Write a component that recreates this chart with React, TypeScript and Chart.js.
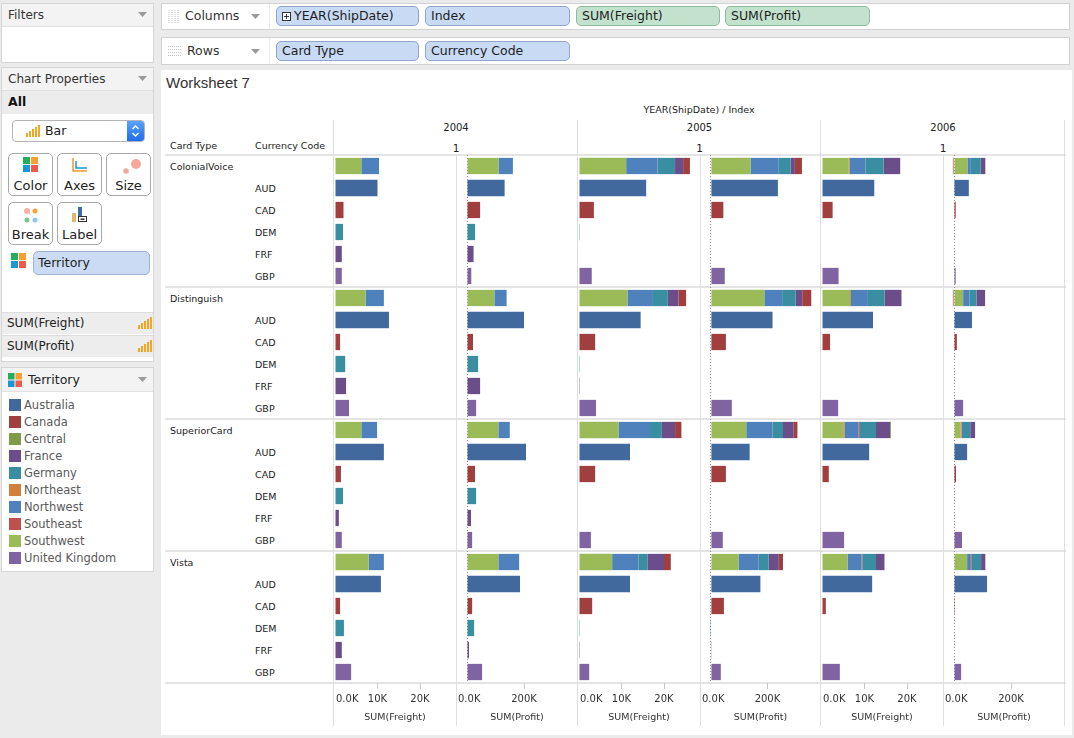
import React, { useEffect, useRef } from "react";
import { Chart, registerables } from "chart.js";

Chart.register(...registerables);

// ---------------- data ----------------
const cardTypes = ["ColonialVoice", "Distinguish", "SuperiorCard", "Vista"];
const currencyCodes = ["AUD", "CAD", "DEM", "FRF", "GBP"];
const years = ["2004", "2005", "2006"];
const measures = ["Freight", "Profit"];
const territories = ["Australia", "Canada", "Central", "France", "Germany", "Northeast", "Northwest", "Southeast", "Southwest", "United Kingdom"];
const territoryColors = ["#42699e", "#a13f3f", "#7f9a48", "#6b4d8a", "#3a8ea1", "#d0803a", "#4f81bd", "#c0504d", "#9bbb59", "#8064a2"];
// order in which the territory segments are stacked
const stackOrder = ["Southwest", "Northeast", "Northwest", "Southeast", "Germany", "France", "Canada", "Central", "Australia", "United Kingdom"];
// territory of each currency code row
const currencyTerritory = ["Australia", "Canada", "Germany", "France", "United Kingdom"];

const freightTicks = [0, 10000, 20000];
const profitTicks = [0, 200000];
const freightRange = [-235, 28470];
const profitRange = [-38600, 389400];

// blank currency-code row (per card type, per year 2004/2005/2006)
const southwestFreight = [[6200, 11100, 6300], [7200, 11400, 6600], [6200, 9300, 5000], [7900, 7800, 6000]];
const northeastFreight = [[0, 0, 200], [0, 0, 200], [0, 0, 300], [0, 0, 0]];
const northwestFreight = [[4150, 7400, 3700], [4300, 6000, 4000], [3700, 7400, 3300], [3600, 6200, 3300]];
const southeastFreight = [[0, 0, 0], [0, 0, 0], [0, 0, 300], [0, 0, 200]];
const germanyFreight = [[0, 4100, 4300], [0, 3500, 3900], [0, 2800, 3800], [0, 2100, 3200]];
const franceFreight = [[0, 1900, 3900], [0, 2500, 4000], [0, 3100, 3300], [0, 3900, 2000]];
const canadaFreight = [[0, 1600, 0], [0, 1800, 0], [0, 1500, 0], [0, 1600, 0]];
const centralFreight = [[0, 0, 0], [0, 0, 0], [0, 0, 200], [0, 0, 0]];

const southwestProfit = [[111000, 140000, 47000], [96000, 189000, 32000], [110000, 125000, 23000], [110000, 98000, 46000]];
const northeastProfit = [[0, 0, 0], [0, 0, 0], [0, 0, 4000], [0, 0, 0]];
const northwestProfit = [[50000, 100000, 12000], [43000, 63000, 22000], [40000, 93000, 8000], [73000, 71000, 13000]];
const southeastProfit = [[0, 0, 0], [0, 0, 0], [0, 0, 0], [0, 0, 3000]];
const germanyProfit = [[0, 42000, 35000], [0, 48000, 25000], [0, 37000, 22000], [0, 35000, 33000]];
const franceProfit = [[0, 15000, 16000], [0, 23000, 30000], [0, 38000, 17000], [0, 36000, 15000]];
const canadaProfit = [[0, 25000, -4000], [0, 32000, -4000], [0, 13000, 0], [0, 15000, 0]];

// currency code rows (per card type, per year)
const audFreight = [[10000, 15800, 12300], [12700, 14500, 12000], [11500, 12000, 11100], [10800, 12000, 11800]];
const cadFreight = [[2000, 3500, 2500], [1200, 3800, 1900], [1400, 3800, 1600], [1200, 3100, 900]];
const demFreight = [[1900, 200, 0], [2400, 200, 0], [1900, 0, 0], [2100, 200, 0]];
const frfFreight = [[1600, 0, 0], [2600, 200, 0], [900, 0, 0], [1600, 200, 0]];
const gbpFreight = [[1600, 3000, 3900], [3300, 4000, 3800], [1600, 2800, 5200], [3800, 2400, 4200]];

const audProfit = [[132000, 237000, 52000], [200000, 218000, 63000], [207000, 137000, 46000], [186000, 175000, 116000]];
const cadProfit = [[46000, 44000, 6000], [21000, 53000, 10000], [28000, 53000, 7000], [18000, 46000, 3000]];
const demProfit = [[28000, 2000, 0], [39000, 2000, 0], [32000, 0, 0], [25000, -3000, 0]];
const frfProfit = [[23000, 0, 0], [46000, 2000, 0], [14000, 0, 0], [7000, 1000, 0]];
const gbpProfit = [[15000, 49000, 6000], [32000, 74000, 32000], [18000, 42000, 28000], [53000, 35000, 25000]];

const blankFreight: Record<string, number[][]> = {
  Southwest: southwestFreight, Northeast: northeastFreight, Northwest: northwestFreight, Southeast: southeastFreight,
  Germany: germanyFreight, France: franceFreight, Canada: canadaFreight, Central: centralFreight,
};
const blankProfit: Record<string, number[][]> = {
  Southwest: southwestProfit, Northeast: northeastProfit, Northwest: northwestProfit, Southeast: southeastProfit,
  Germany: germanyProfit, France: franceProfit, Canada: canadaProfit,
};
const currencyFreight = [audFreight, cadFreight, demFreight, frfFreight, gbpFreight];
const currencyProfit = [audProfit, cadProfit, demProfit, frfProfit, gbpProfit];

const rowKeys: { card: number; cur: number }[] = [];
cardTypes.forEach((_, c) => {
  for (let k = 0; k <= currencyCodes.length; k++) rowKeys.push({ card: c, cur: k });
});
const rowLabels = rowKeys.map((r) => cardTypes[r.card] + "|" + (r.cur ? currencyCodes[r.cur - 1] : ""));

// ---------------- layout constants ----------------
const FONT = '"DejaVu Sans", Verdana, sans-serif';
const yearEdges = [334, 578, 821, 1065];
const PANE_TOP = 155;
const ROW_H = 22;
const PANE_H = ROW_H * rowKeys.length; // 528
const AXIS_H = 42;
const PAD = 20;

function buildDatasets(yi: number, measure: string) {
  const blank = measure === "Freight" ? blankFreight : blankProfit;
  const cur = measure === "Freight" ? currencyFreight : currencyProfit;
  return stackOrder.map((t) => {
    const data = rowKeys.map(({ card, cur: k }) => {
      let v = 0;
      if (k === 0) v = blank[t] ? blank[t][card][yi] : 0;
      else if (currencyTerritory[k - 1] === t) v = cur[k - 1][card][yi];
      return v === 0 ? null : v;
    });
    return {
      label: t,
      data,
      backgroundColor: territoryColors[territories.indexOf(t)],
      borderWidth: 0,
      barPercentage: 0.74,
      categoryPercentage: 1,
      stack: "s",
    };
  });
}

const fmtTick = (v: number) => (v === 0 ? "0.0K" : v / 1000 + "K");

const tickLabelPlugin = {
  id: "tickLabelsClamped",
  afterDraw(chart: any) {
    const s = chart.scales.x;
    const ctx = chart.ctx;
    ctx.save();
    ctx.font = "10px " + FONT;
    ctx.fillStyle = "#333";
    ctx.textBaseline = "middle";
    ctx.textAlign = "left";
    s.ticks.forEach((t: any) => {
      const label = fmtTick(t.value);
      const w = ctx.measureText(label).width;
      let x = s.getPixelForValue(t.value) - w / 2;
      x = Math.max(x, chart.chartArea.left + 2);
      ctx.fillText(label, x, s.top + 16);
    });
    ctx.restore();
  },
};

function paneRect(yi: number, mi: number) {
  const mid = Math.round((yearEdges[yi] + yearEdges[yi + 1]) / 2);
  const left = mi === 0 ? yearEdges[yi] : mid;
  const right = mi === 0 ? mid : yearEdges[yi + 1];
  return { left, width: right - left };
}

function ChartPanels() {
  const refs = useRef<(HTMLCanvasElement | null)[]>([]);
  useEffect(() => {
    const charts: Chart[] = [];
    years.forEach((_, yi) => {
      measures.forEach((m, mi) => {
        const cv = refs.current[yi * 2 + mi];
        if (!cv) return;
        const isProfit = m === "Profit";
        const range = isProfit ? profitRange : freightRange;
        const ticks = isProfit ? profitTicks : freightTicks;
        const ch = new Chart(cv, {
          type: "bar",
          data: { labels: rowLabels, datasets: buildDatasets(yi, m) as any },
          plugins: [tickLabelPlugin],
          options: {
            indexAxis: "y",
            animation: false,
            responsive: false,
            maintainAspectRatio: false,
            events: [],
            layout: { padding: { left: PAD, right: PAD, top: 0, bottom: 0 } },
            plugins: { legend: { display: false }, tooltip: { enabled: false } },
            scales: {
              y: { type: "category", display: false, stacked: true },
              x: {
                type: "linear",
                position: "bottom",
                stacked: true,
                min: range[0],
                max: range[1],
                afterBuildTicks: (s: any) => {
                  s.ticks = ticks.map((v) => ({ value: v }));
                },
                afterFit: (s: any) => {
                  s.height = AXIS_H;
                },
                ticks: { display: false },
                grid: {
                  drawOnChartArea: true,
                  drawTicks: true,
                  tickLength: 6,
                  lineWidth: 1,
                  color: (c: any) => (isProfit && c.tick && c.tick.value === 0 ? "#8f8f8f" : "rgba(0,0,0,0)"),
                  tickColor: (c: any) => (c.tick && c.tick.value === 0 ? "rgba(0,0,0,0)" : "#c9c9c9"),
                },
                border: { display: false, dash: [1, 2] },
                title: {
                  display: true,
                  text: "SUM(" + m + ")",
                  color: "#333",
                  font: { family: FONT, size: 9.5 },
                  padding: { top: 0, bottom: 2 },
                },
              },
            },
          } as any,
        });
        charts.push(ch);
      });
    });
    return () => charts.forEach((c) => c.destroy());
  }, []);

  const canvases: any[] = [];
  years.forEach((_, yi) => {
    measures.forEach((_m, mi) => {
      const r = paneRect(yi, mi);
      const w = r.width + PAD * 2;
      const h = PANE_H + AXIS_H;
      canvases.push(
        <canvas
          key={yi + "-" + mi}
          ref={(el) => {
            refs.current[yi * 2 + mi] = el;
          }}
          width={w}
          height={h}
          style={{ position: "absolute", left: r.left - PAD, top: PANE_TOP, width: w, height: h }}
        />
      );
    });
  });
  return <>{canvases}</>;
}

// ---------------- UI helpers ----------------
function Txt(props: any) {
  const { x, y, text, size = 10, color = "#222", bold, family = FONT, align = "left" } = props;
  const lh = Math.round(size * 1.6);
  const style: any = {
    position: "absolute",
    top: y - lh / 2,
    fontSize: size,
    lineHeight: lh + "px",
    color,
    fontFamily: family,
    fontWeight: bold ? "bold" : "normal",
    whiteSpace: "nowrap",
  };
  if (align === "center") {
    style.left = x - 200;
    style.width = 400;
    style.textAlign = "center";
  } else style.left = x;
  return <div style={style}>{text}</div>;
}

function Rect(props: any) {
  const { x, y, w, h, style } = props;
  return <div style={{ position: "absolute", left: x, top: y, width: w, height: h, boxSizing: "border-box", ...style }}>{props.children}</div>;
}

function Caret({ x, y }: any) {
  return (
    <svg style={{ position: "absolute", left: x, top: y }} width="9" height="6">
      <polygon points="0,0 9,0 4.5,5" fill="#9a9a9a" />
    </svg>
  );
}

function BarIcon({ x, y }: any) {
  const hs = [4, 6, 8, 10, 12];
  return (
    <svg style={{ position: "absolute", left: x, top: y }} width="15" height="13">
      {hs.map((h, i) => (
        <rect key={i} x={i * 3} y={13 - h} width="2" height={h} fill="#f5a623" />
      ))}
    </svg>
  );
}

function ColorIcon({ x, y, s = 7 }: any) {
  return (
    <svg style={{ position: "absolute", left: x, top: y }} width={s * 2 + 1} height={s * 2 + 1}>
      <rect x="0" y="0" width={s} height={s} fill="#23ad5c" />
      <rect x={s + 1} y="0" width={s} height={s} fill="#f6a136" />
      <rect x="0" y={s + 1} width={s} height={s} fill="#1b98d3" />
      <rect x={s + 1} y={s + 1} width={s} height={s} fill="#ef5b4b" />
    </svg>
  );
}

function Pill({ x, y, w, text, green, plus }: any) {
  return (
    <Rect
      x={x}
      y={y}
      w={w}
      h={20}
      style={{
        background: green ? "#c3e2ce" : "#c8daf4",
        border: "1px solid " + (green ? "#8fb99e" : "#8fa6ca"),
        borderRadius: 5,
      }}
    >
      {plus ? (
        <svg style={{ position: "absolute", left: 5, top: 5 }} width="9" height="9">
          <rect x="0.5" y="0.5" width="8" height="8" fill="#fff" stroke="#333" />
          <line x1="2" y1="4.5" x2="7" y2="4.5" stroke="#333" />
          <line x1="4.5" y1="2" x2="4.5" y2="7" stroke="#333" />
        </svg>
      ) : null}
      <div style={{ position: "absolute", left: plus ? 17 : 5, top: 0, lineHeight: "18px", fontSize: 12.5, color: "#1e1e1e", fontFamily: FONT, whiteSpace: "nowrap" }}>{text}</div>
    </Rect>
  );
}

function Btn({ x, y, label, children }: any) {
  return (
    <Rect x={x} y={y} w={45} h={43} style={{ border: "1px solid #a9a9a9", borderRadius: 5, background: "#fff" }}>
      {children}
      <div style={{ position: "absolute", left: 0, width: 43, top: 23, textAlign: "center", fontSize: 13, lineHeight: "18px", color: "#222", fontFamily: FONT }}>{label}</div>
    </Rect>
  );
}

function LeftPanel() {
  const hdr = { background: "#f3f3f3", borderBottom: "1px solid #e1e1e1" };
  return (
    <>
      {/* Filters */}
      <Rect x={1} y={3} w={153} h={60} style={{ background: "#fff", border: "1px solid #d6d6d6" }} />
      <Rect x={2} y={4} w={151} h={23} style={hdr} />
      <Txt x={8} y={15} text="Filters" size={12} color="#333" />
      <Caret x={138} y={12} />

      {/* Chart properties */}
      <Rect x={1} y={67} w={153} h={295} style={{ background: "#fff", border: "1px solid #d6d6d6" }} />
      <Rect x={2} y={68} w={151} h={23} style={hdr} />
      <Txt x={8} y={79} text="Chart Properties" size={12} color="#333" />
      <Caret x={138} y={76} />
      <Rect x={2} y={91} w={151} h={23} style={{ background: "#ececec" }} />
      <Txt x={8} y={102} text="All" size={12.5} color="#111" bold />

      <Rect x={12} y={120} w={133} h={22} style={{ border: "1px solid #b4b4b4", borderRadius: 4, background: "#fff", overflow: "hidden" }}>
        <div style={{ position: "absolute", right: 0, top: 0, width: 17, height: 20, background: "linear-gradient(#5aa2fb,#1e6fe8)" }}>
          <svg width="17" height="20">
            <polyline points="5.5,8 8.5,5 11.5,8" fill="none" stroke="#fff" strokeWidth="1.4" />
            <polyline points="5.5,12 8.5,15 11.5,12" fill="none" stroke="#fff" strokeWidth="1.4" />
          </svg>
        </div>
      </Rect>
      <BarIcon x={26} y={124} />
      <Txt x={45} y={131} text="Bar" size={12.5} color="#222" />

      <Btn x={8} y={153} label="Color">
        <ColorIcon x={14} y={3} s={7} />
      </Btn>
      <Btn x={57} y={153} label="Axes">
        <svg style={{ position: "absolute", left: 14, top: 4 }} width="16" height="15">
          <polyline points="1,0 1,13 15,13" fill="none" stroke="#f39a2b" strokeWidth="1.5" />
          <polyline points="4,3 4,10 15,10" fill="none" stroke="#1b98d3" strokeWidth="1.5" />
        </svg>
      </Btn>
      <Btn x={106} y={153} label="Size">
        <svg style={{ position: "absolute", left: 12, top: 3 }} width="22" height="18">
          <circle cx="17" cy="7" r="5" fill="#f5a79c" />
          <circle cx="7" cy="14" r="2.8" fill="#f5a79c" />
        </svg>
      </Btn>
      <Btn x={8} y={202} label="Break">
        <svg style={{ position: "absolute", left: 12, top: 3 }} width="20" height="18">
          <circle cx="6" cy="5" r="3" fill="#f5b2a7" />
          <circle cx="14" cy="5" r="2.5" fill="#f6a136" />
          <circle cx="6" cy="14" r="2.5" fill="#7cc686" />
          <circle cx="14" cy="14" r="2.5" fill="#8cc8f0" />
          <line x1="8" y1="7" x2="12" y2="11" stroke="#bbb" strokeDasharray="1,1" />
        </svg>
      </Btn>
      <Btn x={57} y={202} label="Label">
        <svg style={{ position: "absolute", left: 14, top: 3 }} width="16" height="18">
          <rect x="0" y="7" width="4" height="9" fill="#e2b96c" />
          <rect x="6" y="1" width="4" height="9" fill="#3f6ea5" />
          <rect x="6.5" y="10.5" width="8" height="5" fill="#fff" stroke="#333" />
          <rect x="8.5" y="12.5" width="4" height="1.5" fill="#333" />
        </svg>
      </Btn>

      <ColorIcon x={11} y={253} s={7} />
      <Rect x={33} y={251} w={117} h={24} style={{ background: "#cadbf3", border: "1px solid #9fb3d4", borderRadius: 5 }} />
      <Txt x={38} y={263} text="Territory" size={12.5} color="#1e1e1e" />

      <Rect x={2} y={312} w={151} h={22} style={{ background: "#ededed", borderTop: "1px solid #dedede" }} />
      <Txt x={7} y={323} text="SUM(Freight)" size={12} color="#222" />
      <BarIcon x={138} y={316} />
      <Rect x={2} y={335} w={151} h={22} style={{ background: "#ededed", borderTop: "1px solid #dedede" }} />
      <Txt x={7} y={346} text="SUM(Profit)" size={12} color="#222" />
      <BarIcon x={138} y={339} />

      {/* Territory legend */}
      <Rect x={1} y={367} w={153} h={205} style={{ background: "#fff", border: "1px solid #d6d6d6" }} />
      <Rect x={2} y={368} w={151} h={24} style={hdr} />
      <ColorIcon x={8} y={373} s={6.5} />
      <Txt x={28} y={380} text="Territory" size={12.5} color="#222" />
      <Caret x={138} y={377} />
      {territories.map((t, i) => (
        <React.Fragment key={t}>
          <Rect x={9} y={399 + i * 17} w={12} h={12} style={{ background: territoryColors[i] }} />
          <Txt x={24} y={405 + i * 17} text={t} size={11.5} color="#5a5a5a" />
        </React.Fragment>
      ))}
    </>
  );
}

function Shelves() {
  const shelf = { background: "#fff", border: "1px solid #d2d2d2" };
  const grip = (x: number, y: number, vertical: boolean) => (
    <svg style={{ position: "absolute", left: x, top: y }} width="13" height="13">
      {vertical
        ? [0, 3, 6, 9].map((i) => <line key={i} x1={i + 1} y1="0" x2={i + 1} y2="13" stroke="#c2c2c2" strokeDasharray="1,1" />)
        : [0, 3, 6, 9].map((i) => <line key={i} x1="0" y1={i + 1.5} x2="13" y2={i + 1.5} stroke="#c2c2c2" strokeDasharray="1,1" />)}
    </svg>
  );
  return (
    <>
      <Rect x={161} y={3} w={909} h={27} style={shelf} />
      {grip(168, 10, true)}
      <Txt x={185} y={16} text="Columns" size={12.5} color="#333" />
      <Caret x={251} y={14} />
      <Rect x={269} y={4} w={1} h={25} style={{ background: "#ececec" }} />
      <Pill x={276} y={6} w={143} text="YEAR(ShipDate)" plus />
      <Pill x={425} y={6} w={145} text="Index" />
      <Pill x={576} y={6} w={144} text="SUM(Freight)" green />
      <Pill x={725} y={6} w={145} text="SUM(Profit)" green />

      <Rect x={161} y={37} w={909} h={28} style={shelf} />
      {grip(168, 45, false)}
      <Txt x={187} y={51} text="Rows" size={12.5} color="#333" />
      <Caret x={251} y={49} />
      <Rect x={269} y={38} w={1} h={26} style={{ background: "#ececec" }} />
      <Pill x={276} y={41} w={143} text="Card Type" />
      <Pill x={425} y={41} w={145} text="Currency Code" />
    </>
  );
}

function Sheet() {
  const lineC = "#dedede";
  const vLines: any[] = [];
  yearEdges.forEach((x, i) => vLines.push(<Rect key={"ye" + i} x={x - 1} y={120} w={1} h={606} style={{ background: lineC }} />));
  years.forEach((_, yi) => {
    const mid = Math.round((yearEdges[yi] + yearEdges[yi + 1]) / 2);
    vLines.push(<Rect key={"m" + yi} x={mid} y={PANE_TOP} w={1} h={571} style={{ background: lineC }} />);
  });
  const hLines = [0, 6, 12, 18, 24].map((r) => (
    <Rect key={"h" + r} x={165} y={PANE_TOP + r * ROW_H - 1} w={901} h={2} style={{ background: "#e4e4e4" }} />
  ));
  return (
    <>
      <Rect x={161} y={70} w={911} h={665} style={{ background: "#fff" }} />
      <Txt x={166} y={83} text="Worksheet 7" size={15} color="#333" family='"Liberation Sans", Arial, sans-serif' />
      <Txt x={699} y={109} text="YEAR(ShipDate) / Index" size={9.5} color="#222" align="center" />
      {years.map((y, yi) => (
        <React.Fragment key={y}>
          <Txt x={(yearEdges[yi] + yearEdges[yi + 1]) / 2} y={128} text={y} size={10} color="#222" align="center" />
          <Txt x={(yearEdges[yi] + yearEdges[yi + 1]) / 2} y={148} text="1" size={10.5} color="#222" align="center" />
        </React.Fragment>
      ))}
      <Txt x={170} y={145} text="Card Type" size={9.5} color="#222" />
      <Txt x={255} y={145} text="Currency Code" size={9.5} color="#222" />
      {rowKeys.map((r, i) =>
        r.cur === 0 ? (
          <Txt key={i} x={170} y={PANE_TOP + i * ROW_H + 11} text={cardTypes[r.card]} size={9.5} color="#222" />
        ) : (
          <Txt key={i} x={255} y={PANE_TOP + i * ROW_H + 11} text={currencyCodes[r.cur - 1]} size={9.5} color="#222" />
        )
      )}
      {hLines}
      {vLines}
      <ChartPanels />
    </>
  );
}

export default function App() {
  return (
    <div
      style={{
        position: "fixed",
        left: 0,
        top: 0,
        width: 1074,
        height: 738,
        background: "#ebebeb",
        overflow: "hidden",
        fontFamily: FONT,
      }}
    >
      <LeftPanel />
      <Shelves />
      <Sheet />
    </div>
  );
}
